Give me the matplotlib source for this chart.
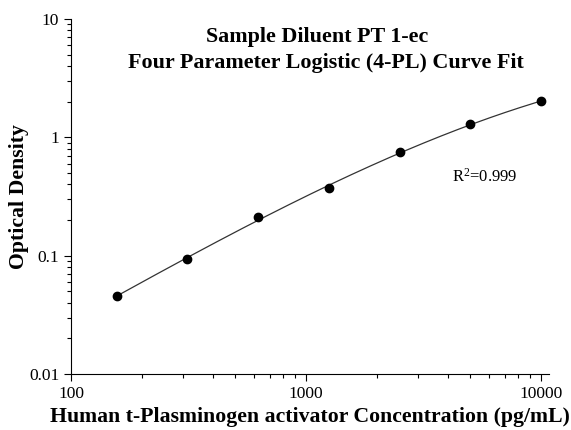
import numpy as np
import matplotlib
matplotlib.use('Agg')
import matplotlib.pyplot as plt
from matplotlib.ticker import LogLocator, NullFormatter, FixedLocator, FixedFormatter

plt.rcParams['font.family'] = ['Liberation Serif', 'DejaVu Serif']

# standard curve data
conc = [156.25, 312.5, 625, 1250, 2500, 5000, 10000]
od = [0.0458, 0.093, 0.214, 0.370, 0.746, 1.29, 2.02]

x_ticks = [100, 1000, 10000]
x_tick_labels = ['100', '1000', '10000']
y_ticks = [0.01, 0.1, 1, 10]
y_tick_labels = ['0.01', '0.1', '1', '10']

fig = plt.figure(figsize=(5.71, 4.30), dpi=100)
ax = fig.add_axes([0.1243, 0.1302, 0.8372, 0.8256])

# smooth fit line in log-log space
lx = np.log10(conc)
ly = np.log10(od)
coef = np.polyfit(lx, ly, 3)
xs = np.linspace(lx[0], lx[-1], 200)
ax.plot(10 ** xs, 10 ** np.polyval(coef, xs), color='#333333', lw=0.9)
ax.plot(conc, od, 'o', color='black', markersize=6)

ax.set_xscale('log')
ax.set_yscale('log')
ax.set_xlim(100, 10800)
ax.set_ylim(0.01, 10)

ax.xaxis.set_major_locator(FixedLocator(x_ticks))
ax.xaxis.set_major_formatter(FixedFormatter(x_tick_labels))
ax.yaxis.set_major_locator(FixedLocator(y_ticks))
ax.yaxis.set_major_formatter(FixedFormatter(y_tick_labels))
ax.xaxis.set_minor_locator(LogLocator(base=10, subs=np.arange(2, 10)))
ax.yaxis.set_minor_locator(LogLocator(base=10, subs=np.arange(2, 10)))
ax.xaxis.set_minor_formatter(NullFormatter())
ax.yaxis.set_minor_formatter(NullFormatter())

ax.tick_params(which='major', direction='out', length=5, width=0.8, labelsize=12.5)
ax.tick_params(which='minor', direction='out', length=3, width=0.8)

ax.spines['top'].set_visible(False)
ax.spines['right'].set_visible(False)

ax.set_xlabel('Human t-Plasminogen activator Concentration (pg/mL)',
              fontsize=15.7, fontweight='bold', labelpad=4)
ax.set_ylabel('Optical Density', fontsize=15.7, fontweight='bold', labelpad=0)

fig.text(0.555, 0.914, 'Sample Diluent PT 1-ec', ha='center', va='center',
         fontsize=15.8, fontweight='bold')
fig.text(0.571, 0.853, 'Four Parameter Logistic (4-PL) Curve Fit', ha='center',
         va='center', fontsize=15.8, fontweight='bold')

ax.text(0.797, 0.555, r'$\mathregular{R^2}$=0.999', transform=ax.transAxes,
        fontsize=12, ha='left', va='center')

fig.savefig('out.png', dpi=100)
